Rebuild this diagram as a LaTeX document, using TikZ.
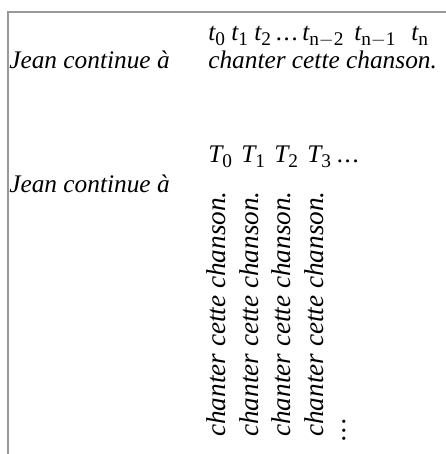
\documentclass[tikz,border=0pt]{standalone}
\usepackage{fontspec}
\setmainfont{Liberation Serif}
\newcommand{\subup}[1]{\raisebox{-0.22em}{\upshape\fontsize{14.5}{14.5}\selectfont #1}}
\newcommand{\mn}{\ensuremath{-}}
\newcommand{\wdots}{.\hspace{1.2pt}.\hspace{1.2pt}.}
\tikzset{
  txt/.style={inner sep=0pt, anchor=base west, font=\itshape\fontsize{19}{22}\selectfont},
  vtxt/.style={inner sep=0pt, rotate=90, anchor=base west, font=\itshape\fontsize{20.4}{22}\selectfont},
  frame/.style={draw=black!40, line width=1.4pt}
}
\begin{document}
\begin{tikzpicture}[x=0.75pt,y=-0.75pt]
\useasboundingbox (0,0) rectangle (446,454);
\coordinate (fb) at (8,454);
\coordinate (fc) at (8,12);
\coordinate (fr) at (446,12);
\draw[frame] (fb) -- (fc) -- (fr);
% top block
\node[txt] (t0) at (208,40) {t\subup{0}};
\node[txt] (t1) at (231,40) {t\subup{1}};
\node[txt] (t2) at (254,40) {t\subup{2}};
\node[txt] (td) at (276,40) {\wdots};
\node[txt] (tn2) at (302,40) {t\subup{n\mn2}};
\node[txt] (tn1) at (354,40) {t\subup{n\mn1}};
\node[txt] (tn) at (411,40) {t\subup{n}};
\node[txt] (jean1) at (9,68) {Jean continue à};
\node[txt] (chant1) at (208,68) {chanter cette chanson.};
% bottom block
\node[txt] (T0) at (208,162) {T\subup{0}};
\node[txt] (T1) at (241,162) {T\subup{1}};
\node[txt] (T2) at (274,162) {T\subup{2}};
\node[txt] (T3) at (307,162) {T\subup{3}};
\node[txt] (Td) at (337,162) {\wdots};
\node[txt] (jean2) at (9,192) {Jean continue à};
\node[vtxt] (c0) at (225,437) {chanter cette chanson.};
\node[vtxt] (c1) at (258,437) {chanter cette chanson.};
\node[vtxt] (c2) at (290,437) {chanter cette chanson.};
\node[vtxt] (c3) at (323,437) {chanter cette chanson.};
\node[vtxt] (cd) at (345,442) {\wdots};
\end{tikzpicture}
\end{document}
